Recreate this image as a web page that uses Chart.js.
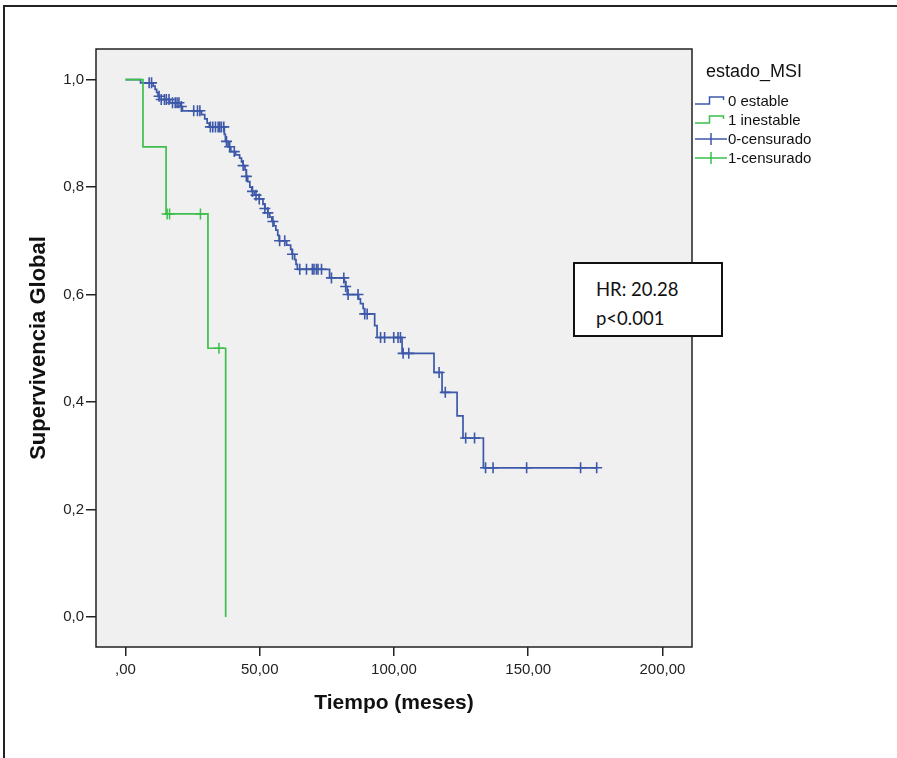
<!DOCTYPE html>
<html>
<head>
<meta charset="utf-8">
<script src="https://cdn.jsdelivr.net/npm/chart.js@4.4.1/dist/chart.umd.min.js"></script>
<style>
    body { margin: 0; background: #fff; font-family: "Liberation Sans", Arial, sans-serif; }
    #wrap { position: relative; width: 897px; height: 758px; overflow: hidden; }
    #frame { position: absolute; left: 3px; top: 5px; width: 1000px; height: 1000px;
             border-left: 2px solid #222; border-top: 2px solid #222; }
    #kmChart { position: absolute; left: 0; top: 0; }
    .legend { position: absolute; left: 695px; top: 58px; color: #111; }
    .legend .title { position: absolute; left: 11px; top: 3px; font-size: 18px; white-space: nowrap; }
    .legend .item { position: absolute; left: 0; height: 16px; white-space: nowrap; font-size: 15px; line-height: 16px; }
    .legend .item svg { position: absolute; left: 0; top: 0; }
    .legend .item span { position: absolute; left: 33px; top: 0; }
    #hrBox { position: absolute; left: 573px; top: 262px; width: 146px; height: 71px;
             background: #fff; border: 2px solid #111; font-family: Lato, "Open Sans", sans-serif;
             font-size: 18.5px; color: #111; }
    #hrBox div { position: absolute; left: 21px; }
</style>
</head>
<body>
<div id="wrap">
    <div id="frame"></div>
    <canvas id="kmChart" width="897" height="758"></canvas>
    <div class="legend" id="legend"></div>
    <div id="hrBox"><div style="top:14px">HR: 20.28</div><div style="top:43px">p&lt;0.001</div></div>
</div>
<script>
// axis ticks
const xTickValues = [0, 50, 100, 150, 200];
const xTickLabels = [',00', '50,00', '100,00', '150,00', '200,00'];
const yTickValues = [0, 0.2, 0.4, 0.6, 0.8, 1.0];
const yTickLabels = ['0,0', '0,2', '0,4', '0,6', '0,8', '1,0'];

// 0 estable: event times (months) and survival after each step
const estableTimes = [0, 5.6, 10.3, 11.0, 11.6, 12.1, 12.6, 16.5, 20.6, 21.2, 28.3, 29.5, 30.4, 31.2,
    36.8, 37.2, 38.2, 39.2, 41.0, 42.5, 43.2, 43.8, 44.5, 45.0, 45.5, 46.3, 47.0, 48.0, 49.8,
    51.2, 51.9, 53.0, 53.7, 54.5, 55.3, 56.0, 56.7, 57.2, 60.0, 61.5, 62.0, 63.0, 63.5, 64.0,
    76.0, 81.5, 82.0, 82.6, 86.8, 87.5, 88.5, 89.0, 92.8, 93.7, 103.0, 114.9, 117.9, 123.5, 125.7, 133.3];
const estableSurv = [1.0, 0.994, 0.988, 0.982, 0.976, 0.969, 0.963, 0.957, 0.950, 0.942, 0.935, 0.927, 0.919, 0.912,
    0.898, 0.885, 0.875, 0.866, 0.860, 0.854, 0.847, 0.840, 0.832, 0.820, 0.810, 0.800, 0.792, 0.785, 0.778,
    0.768, 0.760, 0.752, 0.744, 0.736, 0.728, 0.720, 0.710, 0.700, 0.692, 0.684, 0.675, 0.665, 0.656, 0.647,
    0.631, 0.624, 0.615, 0.600, 0.592, 0.583, 0.574, 0.564, 0.542, 0.520, 0.4905, 0.455, 0.418, 0.374, 0.333, 0.2775];
const estableCensored = [8.8, 9.7, 12.5, 13.3, 14.5, 15.2, 16.2, 17.5, 18.5, 19.2, 19.9, 20.8, 25.4, 26.8, 27.7,
    31.6, 32.5, 33.5, 34.5, 35.1, 35.7, 36.6, 37.6, 38.8, 40.5, 43.8, 45.0, 47.3, 48.6, 49.8, 51.9, 53.0, 54.9,
    57.4, 59.3, 62.2, 64.9, 67.4, 69.6, 70.2, 71.1, 71.7, 73.0, 76.7, 81.3, 82.0, 82.9, 86.6, 89.1, 90.0,
    95.0, 96.5, 99.9, 101.5, 102.4, 103.4, 105.5, 116.8, 119.1, 126.7, 130.0, 134.1, 136.9, 149.4, 169.5, 175.5];

// 1 inestable
const inestableTimes = [0, 6.5, 15.1, 30.7, 37.3];
const inestableSurv = [1.0, 0.875, 0.75, 0.5, 0.0];
const inestableCensored = [15.5, 16.4, 27.9, 34.8];

const BLUE = '#3d58a9';
const GREEN = '#3cbf4c';
const INK = '#222';

function survAt(times, surv, t) {
    let s = surv[0];
    for (let i = 0; i < times.length; i++) {
        if (times[i] <= t) s = surv[i];
    }
    return s;
}

function curvePoints(times, surv, censored) {
    const pts = times.map((t, i) => ({ x: t, y: surv[i] }));
    const lastC = Math.max(...censored);
    if (lastC > times[times.length - 1]) pts.push({ x: lastC, y: surv[surv.length - 1] });
    return pts;
}

function censorPoints(times, surv, censored) {
    return censored.map(t => ({ x: t, y: survAt(times, surv, t) }));
}

// grey plot area with a dark frame
const plotFrame = {
    id: 'plotFrame',
    beforeDraw(chart) {
        const { ctx, chartArea: a } = chart;
        ctx.save();
        ctx.fillStyle = '#f0f0f0';
        ctx.fillRect(a.left, a.top, a.right - a.left, a.bottom - a.top);
        ctx.strokeStyle = INK;
        ctx.lineWidth = 1.5;
        ctx.strokeRect(a.left, a.top, a.right - a.left, a.bottom - a.top);
        ctx.restore();
    }
};

const tickFont = { family: '"Liberation Sans", Arial, sans-serif', size: 15 };
const titleFont = { family: '"Liberation Sans", Arial, sans-serif', size: 21, weight: 'bold' };

new Chart(document.getElementById('kmChart'), {
    type: 'scatter',
    data: {
        datasets: [
            {
                label: '1 inestable',
                data: curvePoints(inestableTimes, inestableSurv, inestableCensored),
                showLine: true,
                stepped: 'before',
                borderColor: GREEN,
                borderWidth: 1.7,
                pointRadius: 0
            },
            {
                label: '1-censurado',
                data: censorPoints(inestableTimes, inestableSurv, inestableCensored),
                showLine: false,
                pointStyle: 'cross',
                pointRadius: 5.5,
                borderColor: GREEN,
                borderWidth: 1.5
            },
            {
                label: '0 estable',
                data: curvePoints(estableTimes, estableSurv, estableCensored),
                showLine: true,
                stepped: 'before',
                borderColor: BLUE,
                borderWidth: 1.7,
                pointRadius: 0
            },
            {
                label: '0-censurado',
                data: censorPoints(estableTimes, estableSurv, estableCensored),
                showLine: false,
                pointStyle: 'cross',
                pointRadius: 5.5,
                borderColor: BLUE,
                borderWidth: 1.6
            }
        ]
    },
    options: {
        responsive: false,
        animation: false,
        layout: { padding: { left: 0, top: 49, right: 205, bottom: 0 } },
        plugins: {
            legend: { display: false },
            tooltip: { enabled: false }
        },
        scales: {
            x: {
                type: 'linear',
                min: -11,
                max: 211,
                afterBuildTicks: s => { s.ticks = xTickValues.map(v => ({ value: v })); },
                afterFit: s => { s.height = 111; },
                border: { display: false },
                grid: { drawOnChartArea: false, drawTicks: true, tickLength: 9, color: INK, lineWidth: 1.5 },
                ticks: {
                    autoSkip: false,
                    maxRotation: 0,
                    padding: 5,
                    color: INK,
                    font: tickFont,
                    callback: v => xTickLabels[xTickValues.indexOf(v)]
                },
                title: {
                    display: true,
                    text: 'Tiempo (meses)',
                    color: '#111',
                    font: titleFont,
                    padding: { top: 0, bottom: 42 }
                }
            },
            y: {
                type: 'linear',
                min: -0.056,
                max: 1.057,
                afterBuildTicks: s => { s.ticks = yTickValues.map(v => ({ value: v })); },
                afterFit: s => { s.width = 96; },
                border: { display: false },
                grid: { drawOnChartArea: false, drawTicks: true, tickLength: 10, color: INK, lineWidth: 1.5 },
                ticks: {
                    autoSkip: false,
                    padding: 2,
                    color: INK,
                    font: tickFont,
                    callback: v => yTickLabels[yTickValues.indexOf(v)]
                },
                title: {
                    display: true,
                    text: 'Supervivencia Global',
                    color: '#111',
                    font: { family: titleFont.family, size: 22, weight: 'bold' },
                    padding: { top: 26, bottom: 0 }
                }
            }
        }
    },
    plugins: [plotFrame]
});

// legend, drawn as html next to the plot
const legendItems = [
    { label: '0 estable', color: BLUE, kind: 'step' },
    { label: '1 inestable', color: GREEN, kind: 'step' },
    { label: '0-censurado', color: BLUE, kind: 'cross' },
    { label: '1-censurado', color: GREEN, kind: 'cross' }
];
const legendEl = document.getElementById('legend');
legendEl.innerHTML = '<div class="title">estado_MSI</div>' + legendItems.map((it, i) => {
    const icon = it.kind === 'step'
        ? '<path d="M0 11 H14.5 V4 H28.5 V7" fill="none" stroke="' + it.color + '" stroke-width="1.5"/>'
        : '<path d="M0 8 H32 M16 2 V14" fill="none" stroke="' + it.color + '" stroke-width="1.5"/>';
    return '<div class="item" style="top:' + (34.5 + i * 19.3) + 'px"><svg width="32" height="16">' + icon +
        '</svg><span>' + it.label + '</span></div>';
}).join('');
</script>
</body>
</html>
